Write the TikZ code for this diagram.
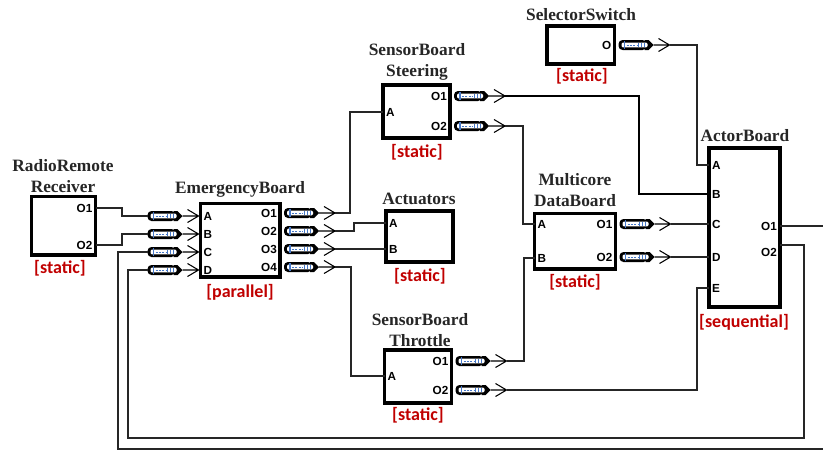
\documentclass[tikz,border=0pt]{standalone}
\usepackage{fontspec}
\setmainfont{Liberation Serif}
\newfontfamily\portfont{Liberation Sans}
\newfontfamily\statfont{Carlito}
\usetikzlibrary{fit}
\definecolor{statred}{RGB}{192,0,0}
\definecolor{badgeblue}{RGB}{70,120,200}
\begin{document}
\begin{tikzpicture}[x=0.75pt,y=-0.75pt,
  box/.style={draw=black, line width=2.4pt, inner sep=0pt, outer sep=0pt},
  wire/.style={line width=0.8pt, draw=black!85},
  thickwire/.style={line width=1.3pt, draw=black},
  title/.style={font=\bfseries\fontsize{13}{15.5}\selectfont, align=center, text=black!85, inner sep=0pt},
  stat/.style={font=\statfont\bfseries\fontsize{13.5}{16}\selectfont, text=statred, inner sep=0pt},
  pl/.style={font=\portfont\bfseries\fontsize{8.8}{10}\selectfont, anchor=west, inner sep=0pt, xshift=2.2pt},
  pr/.style={font=\portfont\bfseries\fontsize{8.8}{10}\selectfont, anchor=east, inner sep=0pt, xshift=-2.2pt},
  badge/.pic={
    \fill[rounded corners=3] (0,-5) rectangle (28,5);
    \fill (26,-5) -- (30,-5) -- (35,0) -- (30,5) -- (26,5) -- cycle;
    \fill[white, rounded corners=1] (3,-2.4) rectangle (29,2.4);
    \draw[badgeblue, line width=1pt] (6,-3.8) -- (6,3.8);
    \draw[badgeblue, line width=0.7pt, dash pattern=on 1.5pt off 1pt] (8,0) -- (19,0);
    \draw[badgeblue, line width=0.7pt] (20,-2.4) -- (20,2.4) (23,-2.4) -- (23,2.4) (26,-2.4) -- (26,2.4);
    \draw[line width=0.8pt] (35,0) -- (51,0) (40,-6.5) -- (51,0) -- (40,6.5);
    \coordinate (-start) at (0,0);
    \coordinate (-end) at (51,0);
  }]
\useasboundingbox (0,0) rectangle (823,450);
\clip (0,0) rectangle (823,450);

% boxes
\node[box, fit={(31.5,196.5) (95.5,255)}] (rr) {};
\node[box, fit={(200.5,203.5) (280,277)}] (eb) {};
\node[box, fit={(383,85) (450,138)}] (ss) {};
\node[box, fit={(386,211) (453,262)}] (act) {};
\node[box, fit={(547,26) (614.5,64)}] (sel) {};
\node[box, fit={(709,148) (780,307)}] (ab) {};
\node[box, fit={(534.5,213.5) (615.5,269)}] (mdb) {};
\node[box, fit={(384.5,350) (451.5,403)}] (st) {};

% titles
\node[title] (rrt) at (63,176) {RadioRemote\\Receiver};
\node[title] (ebt) at (240,189) {EmergencyBoard};
\node[title] (sst) at (417,62) {SensorBoard\\Steering};
\node[title] (actt) at (419,199) {Actuators};
\node[title] (selt) at (581,15) {SelectorSwitch};
\node[title] (abt) at (745,136) {ActorBoard};
\node[title] (mdbt) at (575,190) {Multicore\\DataBoard};
\node[title] (stt) at (420,330) {SensorBoard\\Throttle};

% status labels
\node[stat] (rrs) at (60,268) {[static]};
\node[stat] (ebs) at (240,292) {[parallel]};
\node[stat] (sss) at (417,152) {[static]};
\node[stat] (acts) at (420,276) {[static]};
\node[stat] (sels) at (582,76) {[static]};
\node[stat] (abs) at (744,322) {[sequential]};
\node[stat] (mdbs) at (575,282) {[static]};
\node[stat] (sts) at (418,415) {[static]};

% ports
\coordinate (rr-O1) at (rr.east |- 0,208);
\coordinate (rr-O2) at (rr.east |- 0,245);
\coordinate (eb-A) at (eb.west |- 0,216);
\coordinate (eb-B) at (eb.west |- 0,234);
\coordinate (eb-C) at (eb.west |- 0,252);
\coordinate (eb-D) at (eb.west |- 0,270);
\coordinate (eb-O1) at (eb.east |- 0,213);
\coordinate (eb-O2) at (eb.east |- 0,231);
\coordinate (eb-O3) at (eb.east |- 0,249);
\coordinate (eb-O4) at (eb.east |- 0,267);
\coordinate (ss-A) at (ss.west |- 0,112);
\coordinate (ss-O1) at (ss.east |- 0,96);
\coordinate (ss-O2) at (ss.east |- 0,126);
\coordinate (act-A) at (act.west |- 0,223);
\coordinate (act-B) at (act.west |- 0,249);
\coordinate (sel-O) at (sel.east |- 0,45);
\coordinate (ab-A) at (ab.west |- 0,165);
\coordinate (ab-B) at (ab.west |- 0,194);
\coordinate (ab-C) at (ab.west |- 0,224);
\coordinate (ab-D) at (ab.west |- 0,257);
\coordinate (ab-E) at (ab.west |- 0,288);
\coordinate (ab-O1) at (ab.east |- 0,226);
\coordinate (ab-O2) at (ab.east |- 0,245);
\coordinate (mdb-A) at (mdb.west |- 0,224);
\coordinate (mdb-B) at (mdb.west |- 0,258);
\coordinate (mdb-O1) at (mdb.east |- 0,224);
\coordinate (mdb-O2) at (mdb.east |- 0,257);
\coordinate (st-A) at (st.west |- 0,376);
\coordinate (st-O1) at (st.east |- 0,361);
\coordinate (st-O2) at (st.east |- 0,390);

% port labels
\node[pr] at (rr-O1) {O1};
\node[pr] at (rr-O2) {O2};
\node[pl] at (eb-A) {A};
\node[pl] at (eb-B) {B};
\node[pl] at (eb-C) {C};
\node[pl] at (eb-D) {D};
\node[pr] at (eb-O1) {O1};
\node[pr] at (eb-O2) {O2};
\node[pr] at (eb-O3) {O3};
\node[pr] at (eb-O4) {O4};
\node[pl] at (ss-A) {A};
\node[pr] at (ss-O1) {O1};
\node[pr] at (ss-O2) {O2};
\node[pl] at (act-A) {A};
\node[pl] at (act-B) {B};
\node[pr] at (sel-O) {O};
\node[pl] at (ab-A) {A};
\node[pl] at (ab-B) {B};
\node[pl] at (ab-C) {C};
\node[pl] at (ab-D) {D};
\node[pl] at (ab-E) {E};
\node[pr] at (ab-O1) {O1};
\node[pr] at (ab.east |- 0,252) {O2};
\node[pl] at (mdb-A) {A};
\node[pl] at (mdb-B) {B};
\node[pr] at (mdb-O1) {O1};
\node[pr] at (mdb-O2) {O2};
\node[pl] at (st-A) {A};
\node[pr] at (st-O1) {O1};
\node[pr] at (st-O2) {O2};

% badges (inputs of EmergencyBoard)
\pic[shift={(-53,0)}] (ebA) at (eb-A) {badge};
\pic[shift={(-53,0)}] (ebB) at (eb-B) {badge};
\pic[shift={(-53,0)}] (ebC) at (eb-C) {badge};
\pic[shift={(-53,0)}] (ebD) at (eb-D) {badge};
% badges (outputs)
\pic[shift={(4,0)}] (ebO1) at (eb-O1) {badge};
\pic[shift={(4,0)}] (ebO2) at (eb-O2) {badge};
\pic[shift={(4,0)}] (ebO3) at (eb-O3) {badge};
\pic[shift={(4,0)}] (ebO4) at (eb-O4) {badge};
\pic[shift={(4,0)}] (ssO1) at (ss-O1) {badge};
\pic[shift={(4,0)}] (ssO2) at (ss-O2) {badge};
\pic[shift={(4,0)}] (selO) at (sel-O) {badge};
\pic[shift={(4,0)}] (mdbO1) at (mdb-O1) {badge};
\pic[shift={(4,0)}] (mdbO2) at (mdb-O2) {badge};
\pic[shift={(4,0)}] (stO1) at (st-O1) {badge};
\pic[shift={(4,0)}] (stO2) at (st-O2) {badge};

% wires
\draw[wire] (rr-O1) -- (rr-O1 -| 122,0) |- (ebA-start);
\draw[wire] (rr-O2) -- (rr-O2 -| 122,0) |- (ebB-start);
\draw[wire] (ab-O1) -- (ab-O1 -| 830,0) |- (118,449) |- (ebC-start);
\draw[wire] (ab-O2) -- (ab-O2 -| 804,0) |- (128,438) |- (ebD-start);
\draw[wire] (ebO1-end) -- (ebO1-end -| 350,0) |- (ss-A);
\draw[wire] (ebO2-end) -- (ebO2-end -| 354,0) |- (act-A);
\draw[wire] (ebO3-end) -- (act-B);
\draw[wire] (ebO4-end) -- (ebO4-end -| 351,0) |- (st-A);
\draw[thickwire] (ssO1-end) -- (ssO1-end -| 639,0) |- (ab-B);
\draw[wire] (ssO2-end) -- (ssO2-end -| 523,0) |- (mdb-A);
\draw[wire] (selO-end) -- (selO-end -| 697,0) |- (ab-A);
\draw[wire] (mdbO1-end) -- (ab-C);
\draw[wire] (mdbO2-end) -- (ab-D);
\draw[wire] (stO1-end) -- (stO1-end -| 524,0) |- (mdb-B);
\draw[wire] (stO2-end) -- (stO2-end -| 697,0) |- (ab-E);
\end{tikzpicture}
\end{document}
